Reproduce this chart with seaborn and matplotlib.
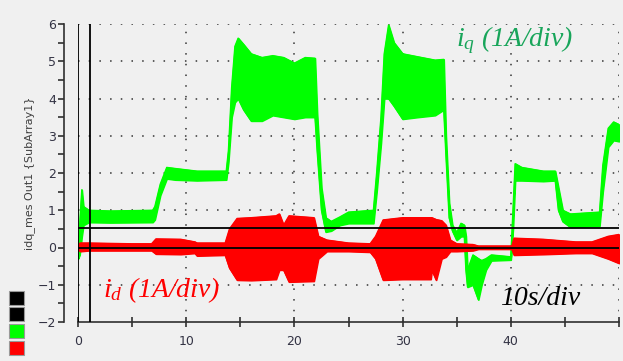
import matplotlib
matplotlib.use("Agg")
import matplotlib.pyplot as plt
import pandas as pd
import seaborn as sns
from matplotlib.patches import Rectangle

# iq envelope (time s, lower A, upper A)
iq_t = [0.0, 0.15, 0.35, 0.5, 1.0, 3.0, 6.9, 7.1, 7.6, 8.2, 9.0, 11.0, 13.7, 13.9,
        14.2, 14.5, 14.8, 15.3, 16.0, 17.0, 18.0, 19.0, 20.0, 21.0, 21.9, 22.1, 22.5,
        22.9, 23.4, 24.2, 25.0, 27.3, 27.6, 28.0, 28.3, 28.7, 29.2, 30.0, 31.4, 33.0,
        33.8, 34.0, 34.3, 34.6, 35.0, 35.4, 35.7, 35.85, 36.0, 36.5, 37.0, 37.3, 37.7,
        38.2, 40.0, 40.2, 40.4, 41.0, 43.0, 44.1, 44.4, 44.8, 45.5, 48.2, 48.5, 49.0,
        49.5, 50.0]
iq_lo = [-0.30, -0.20, 0.30, 0.60, 0.68, 0.67, 0.68, 0.75, 1.40, 1.85, 1.82, 1.80, 1.82,
         2.30, 3.50, 3.90, 4.00, 3.70, 3.40, 3.40, 3.55, 3.50, 3.45, 3.50, 3.50, 2.60,
         1.00, 0.42, 0.45, 0.60, 0.65, 0.65, 1.50, 2.80, 4.00, 4.00, 3.80, 3.45, 3.50,
         3.55, 3.70, 2.50, 0.80, 0.45, 0.20, 0.30, 0.30, -0.60, -1.06, -1.00, -1.40,
         -1.00, -0.60, -0.35, -0.33, 0.50, 1.80, 1.80, 1.78, 1.80, 1.00, 0.70, 0.55,
         0.58, 1.50, 2.70, 2.88, 2.85]
iq_hi = [-0.30, 0.60, 1.55, 1.10, 1.00, 0.98, 1.00, 1.10, 1.70, 2.15, 2.12, 2.05, 2.05,
         2.60, 4.30, 5.40, 5.62, 5.45, 5.20, 5.10, 5.15, 5.10, 4.95, 5.10, 5.08, 3.60,
         1.60, 0.80, 0.70, 0.82, 0.95, 1.00, 2.00, 3.50, 5.20, 5.97, 5.50, 5.20, 5.12,
         5.03, 5.05, 3.00, 1.20, 0.60, 0.40, 0.65, 0.60, 0.30, -0.60, -0.20, -0.30,
         -0.35, -0.30, -0.20, -0.25, 1.00, 2.25, 2.15, 2.05, 2.05, 1.60, 1.00, 0.90,
         0.95, 2.20, 3.20, 3.37, 3.30]

# id envelope (time s, lower A, upper A)
id_t = [0.0, 0.2, 1.0, 5.0, 6.8, 7.2, 9.5, 10.8, 11.0, 13.6, 14.0, 14.7, 16.0, 18.3,
        18.6, 19.0, 19.5, 21.8, 22.2, 23.0, 25.0, 27.0, 27.5, 28.2, 30.0, 32.6, 32.7,
        33.1, 33.6, 34.0, 34.4, 35.0, 36.5, 37.0, 40.1, 40.3, 43.0, 46.0, 47.5, 49.0,
        50.0]
id_lo = [-0.05, -0.10, -0.08, -0.08, -0.08, -0.17, -0.18, -0.15, -0.22, -0.20, -0.55,
         -0.87, -0.88, -0.85, -0.60, -0.60, -0.92, -0.90, -0.30, -0.10, -0.10, -0.12,
         -0.30, -0.87, -0.85, -0.85, -0.60, -0.87, -0.30, -0.25, -0.10, -0.10, -0.08,
         -0.04, -0.04, -0.20, -0.18, -0.15, -0.15, -0.30, -0.42]
id_hi = [0.05, 0.12, 0.12, 0.10, 0.10, 0.23, 0.22, 0.15, 0.12, 0.12, 0.50, 0.78, 0.80,
         0.85, 0.90, 0.60, 0.85, 0.80, 0.30, 0.20, 0.12, 0.10, 0.30, 0.74, 0.80, 0.80,
         0.80, 0.75, 0.72, 0.60, 0.20, 0.10, 0.08, 0.04, 0.04, 0.25, 0.22, 0.15, 0.15,
         0.30, 0.35]

cursor_x = [0.0, 1.1]
cursor_y = [0.0, 0.53]
x_ticks = [0, 10, 20, 30, 40, 50]
x_labels = ["0", "10", "20", "30", "40", ""]

GREEN = "#00ff00"
RED = "#ff0000"
BG = "#f0f0f0"

sns.set_theme(style="white")
plt.rcParams["font.family"] = ["DejaVu Sans"]
plt.rcParams["mathtext.fontset"] = "custom"
plt.rcParams["mathtext.it"] = "Liberation Serif:italic"
plt.rcParams["mathtext.rm"] = "Liberation Serif:italic"

fig = plt.figure(figsize=(6.23, 3.61), dpi=100, facecolor=BG)
ax = fig.add_axes([78 / 623, 1 - 322 / 361, (619 - 78) / 623, (322 - 24) / 361])
ax.set_facecolor(BG)

iq = pd.DataFrame({"t": iq_t, "lo": iq_lo, "hi": iq_hi})
idd = pd.DataFrame({"t": id_t, "lo": id_lo, "hi": id_hi})

for df, col in [(iq, GREEN), (idd, RED)]:
    ax.fill_between(df["t"], df["lo"], df["hi"], color=col, lw=1.2, edgecolor=col, zorder=3)
    sns.lineplot(data=df, x="t", y="hi", color=col, lw=1, ax=ax, zorder=3)
    sns.lineplot(data=df, x="t", y="lo", color=col, lw=1, ax=ax, zorder=3)

for x in cursor_x:
    ax.axvline(x, color="black", lw=1.3, zorder=5)
for y in cursor_y:
    ax.axhline(y, color="black", lw=1.3, zorder=5)

# dotted grid
dot = (0, (1, 6))
for y in [-1, 1, 2, 3, 4, 5, 6]:
    ax.axhline(y, color="#333333", lw=1.1, ls=dot, zorder=1)
for x in [10, 20, 30, 40, 50]:
    ax.axvline(x, color="#333333", lw=1.1, ls=dot, zorder=1)

ax.set_xlim(0, 50)
ax.set_ylim(-2, 6)
ax.set_xticks(x_ticks)
ax.set_xticklabels(x_labels)
ax.set_xticks(range(5, 51, 10), minor=True)
ax.set_yticks(range(-2, 7))
ax.set_yticks([v / 2 for v in range(-3, 12, 2)], minor=True)

for s in ["top", "right"]:
    ax.spines[s].set_visible(False)
ax.spines["left"].set_position(("outward", 10))
for s in ["left", "bottom"]:
    ax.spines[s].set_color("#303030")
    ax.spines[s].set_linewidth(1.2)

ax.tick_params(axis="x", which="both", direction="inout", length=7, width=1.2,
               color="#303030", labelsize=9, labelcolor="#333344", pad=6, bottom=True)
ax.tick_params(axis="y", which="major", direction="out", length=4, width=1.2,
               color="#303030", labelsize=9, labelcolor="#333344", pad=2, left=True)
ax.tick_params(axis="y", which="minor", direction="out", length=4, width=1.2,
               color="#303030", left=True)

ax.set_xlabel("")
ax.set_ylabel("idq_mes Out1 {SubArray1}", fontsize=8, color="#404040", labelpad=2)

serif = dict(family="Liberation Serif", style="italic", fontsize=20)
ax.text(34.9, 5.57, r"$i_q$ (1A/div)", color="#18a55a", va="center", ha="left", **serif)
ax.text(2.3, -1.14, r"$i_d$ (1A/div)", color=RED, va="center", ha="left", **serif)
ax.text(39.0, -1.38, "10s/div", color="black", va="center", ha="left", **serif)

# channel colour swatches
for top, col in [(291, "black"), (307, "black"), (324, GREEN), (341, RED)]:
    fig.add_artist(Rectangle((9 / 623, 1 - (top + 14) / 361), 15 / 623, 14 / 361,
                             transform=fig.transFigure, facecolor=col,
                             edgecolor="#999999", lw=0.8))

fig.savefig("out.png", dpi=100, facecolor=BG)
